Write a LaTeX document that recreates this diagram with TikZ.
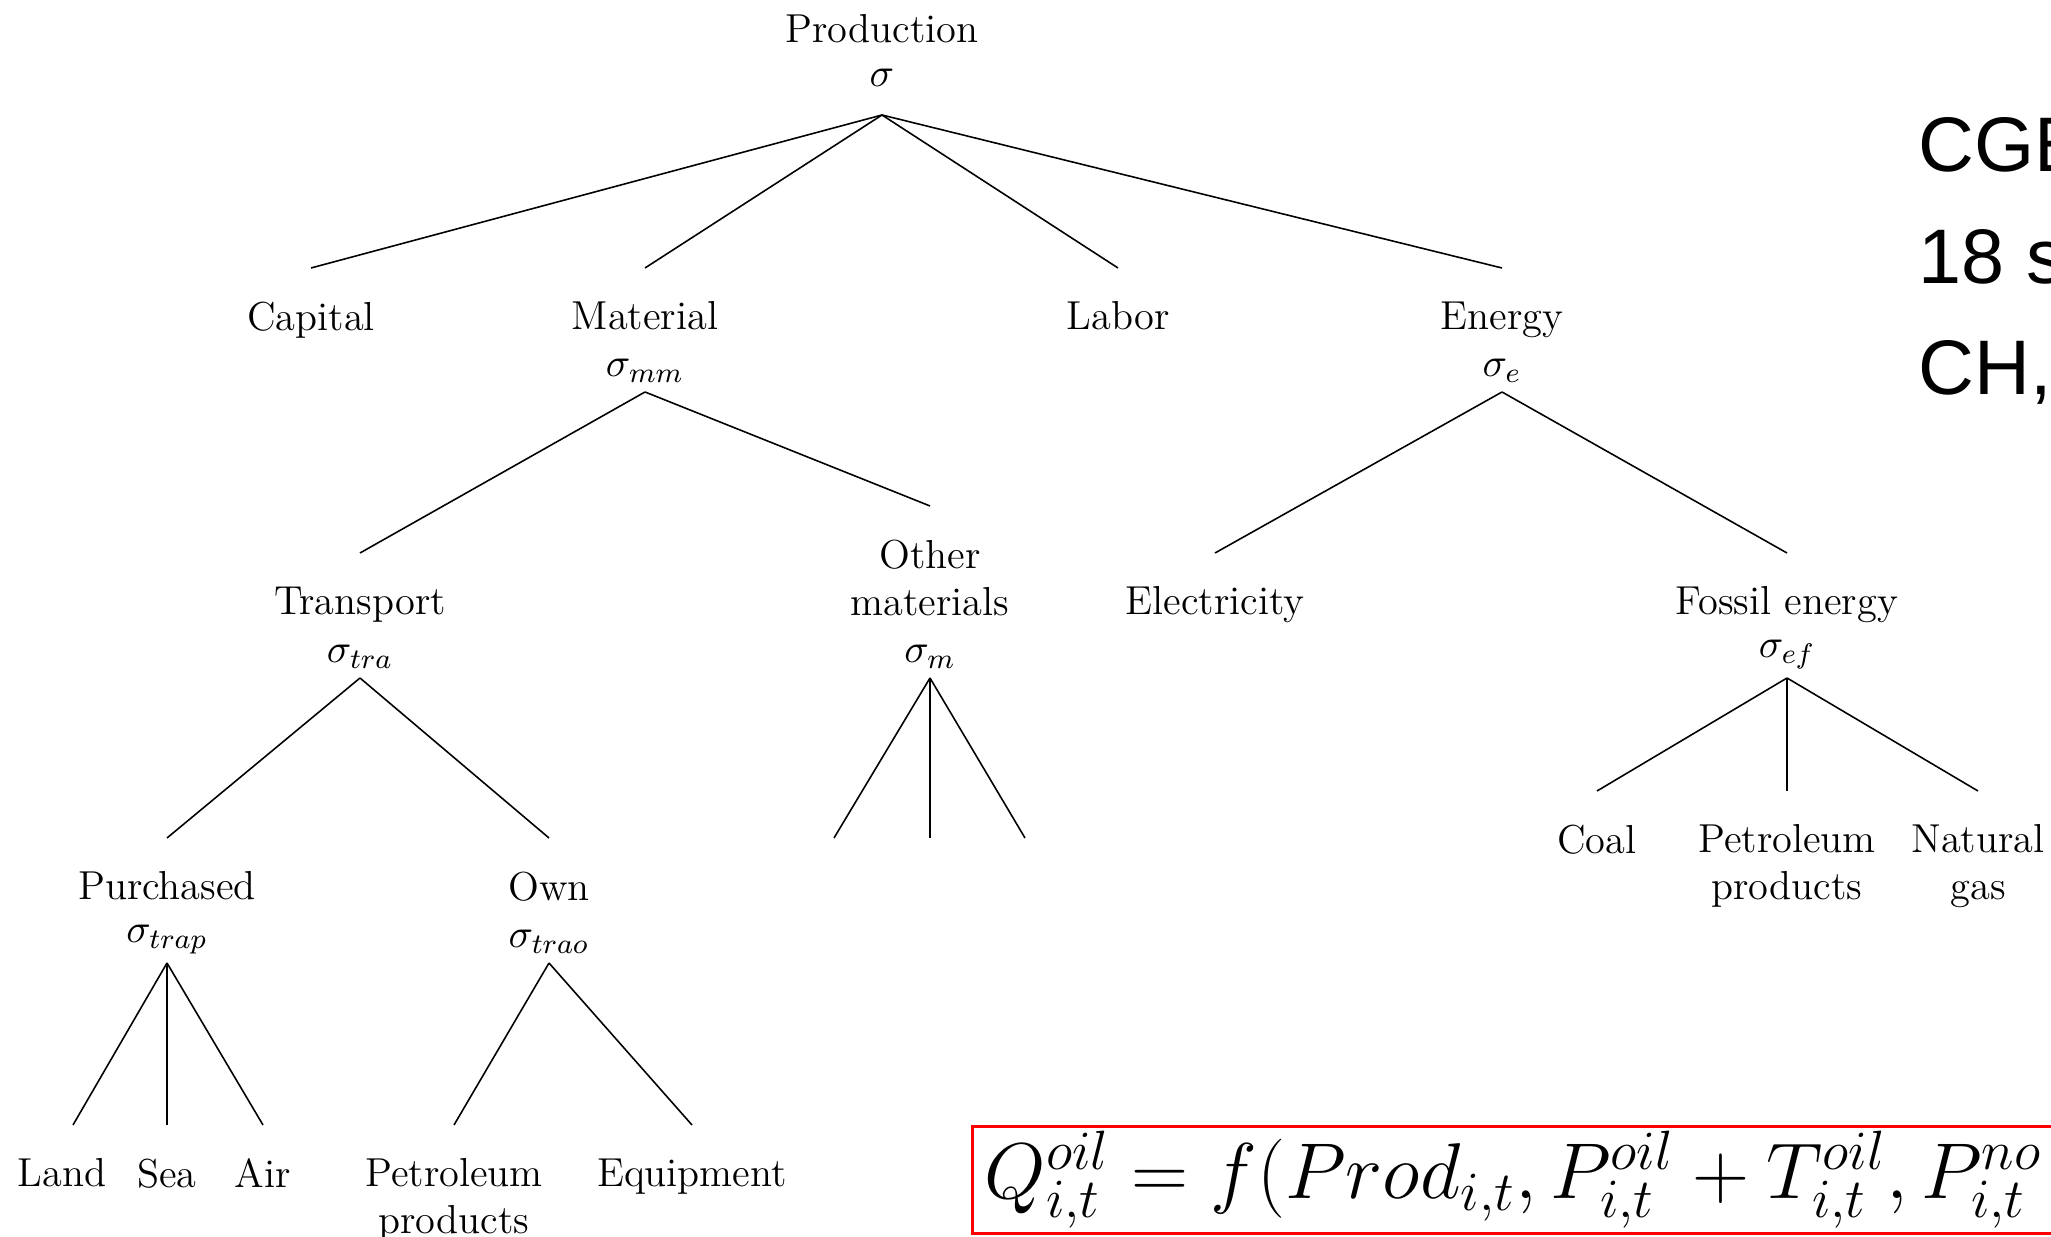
\RequirePackage{fix-cm}
\documentclass[tikz,border=0pt]{standalone}
\usepackage{fontspec}
\newfontfamily\sidefont{Liberation Sans}
\usetikzlibrary{positioning}
\newcommand{\treefont}{\fontsize{11.5}{13.4}\selectfont}
\tikzset{
  cat/.style={font=\treefont, align=center, inner sep=0pt, outer ysep=9.6pt, anchor=north},
  sig/.style={font=\treefont, inner sep=0pt, outer ysep=2.6pt, anchor=south},
  branch/.style={line width=0.45pt},
  side/.style={font=\sidefont\fontsize{22}{27}\selectfont, inner sep=0pt, anchor=base west},
  eqbox/.style={draw=red, line width=0.75pt, font=\fontsize{22.5}{27}\selectfont,
    inner xsep=3.5pt, inner ysep=0pt, minimum height=1.07cm, text width=13cm, align=left},
}

\begin{document}
\begin{tikzpicture}[x=0.01cm, y=-0.01cm]
  \path[use as bounding box, clip] (0,0) rectangle (2051,1237);

  \node[cat, anchor=base] (prod) at (882,43) {Production};
  \node[sig, outer ysep=8pt] (prodsig) at (882,115) {$\sigma$};

  \node[cat] (cap) at (311,268) {Capital};
  \node[cat] (mat) at (645,268) {Material};
  \node[cat] (lab) at (1118,268) {Labor};
  \node[cat] (ene) at (1502,268) {Energy};
  \node[sig] (matsig) at (645,392) {$\sigma_{mm}$};
  \node[sig] (enesig) at (1502,392) {$\sigma_e$};

  \node[cat] (tra) at (360,553) {Transport};
  \node[cat] (oth) at (930,506) {Other\\materials};
  \node[cat] (ele) at (1215,553) {Electricity};
  \node[cat] (fos) at (1787,553) {Fossil energy};
  \node[sig] (trasig) at (360,678) {$\sigma_{tra}$};
  \node[sig] (othsig) at (930,678) {$\sigma_m$};
  \node[sig] (fossig) at (1787,678) {$\sigma_{ef}$};

  \node[cat] (pur) at (167,838) {Purchased};
  \node[cat] (own) at (549,838) {Own};
  \node[sig] (pursig) at (167,963) {$\sigma_{trap}$};
  \node[sig] (ownsig) at (549,963) {$\sigma_{trao}$};
  \coordinate (m1) at (834,838);
  \coordinate (m2) at (930,838);
  \coordinate (m3) at (1025,838);
  \node[cat] (coal) at (1597,791) {Coal};
  \node[cat] (fpet) at (1787,791) {Petroleum\\products};
  \node[cat] (gas) at (1978,791) {Natural\\gas};

  \node[cat] (land) at (62,1125) {Land};
  \node[cat] (sea) at (167,1125) {Sea};
  \node[cat] (air) at (263,1125) {Air};
  \node[cat] (opet) at (454,1125) {Petroleum\\products};
  \node[cat] (equ) at (692,1125) {Equipment};

  \foreach \kid in {cap,mat,lab,ene}
    \draw[branch] (prodsig.south) -- (\kid.north);
  \foreach \kid in {tra,oth}
    \draw[branch] (matsig.south) -- (\kid.north);
  \foreach \kid in {ele,fos}
    \draw[branch] (enesig.south) -- (\kid.north);
  \foreach \kid in {pur,own}
    \draw[branch] (trasig.south) -- (\kid.north);
  \foreach \kid in {m1,m2,m3}
    \draw[branch] (othsig.south) -- (\kid);
  \foreach \kid in {coal,fpet,gas}
    \draw[branch] (fossig.south) -- (\kid.north);
  \draw[branch] (pursig.south) -- ([xshift=1.1mm]land.north);
  \foreach \kid in {sea,air}
    \draw[branch] (pursig.south) -- (\kid.north);
  \foreach \kid in {opet,equ}
    \draw[branch] (ownsig.south) -- (\kid.north);

  \node[side] (cge) at (1918,172) {CGE};
  \node[side] (secs) at (1918,284) {18 s};
  \node[side] (ch) at (1918,395) {CH,};

  \node[eqbox, anchor=north west] (eq) at (971,1125)
    {$Q_{i,t}^{oil}=f(Prod_{i,t},P_{i,t}^{oil}+T_{i,t}^{oil},P_{i,t}^{no}$};
\end{tikzpicture}
\end{document}
